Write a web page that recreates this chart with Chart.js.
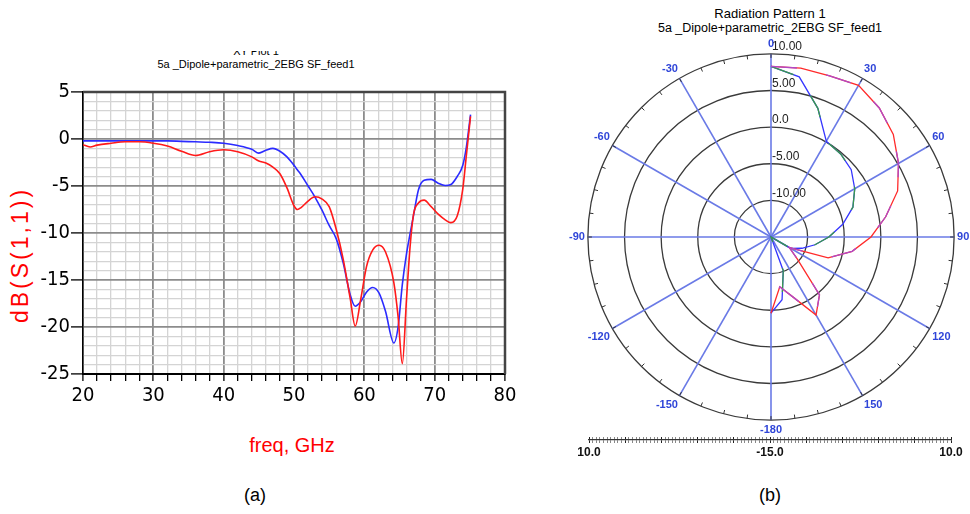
<!DOCTYPE html>
<html>
<head>
<meta charset="utf-8">
<script src="https://cdn.jsdelivr.net/npm/chart.js@4.4.0/dist/chart.umd.min.js"></script>
<style>
  body { margin: 0; background: #fff; font-family: Arial, 'Liberation Sans', sans-serif; }
  #page { position: relative; width: 970px; height: 514px; overflow: hidden; }
  canvas { position: absolute; }
  .txt { position: absolute; white-space: nowrap; transform: translate(-50%, -50%); line-height: 1; }
</style>
</head>
<body>
<div id="page">
  <!-- (a) header, top line is cut off like in the original export -->
  <div style="position:absolute; left:0; top:51px; width:520px; height:20px; overflow:hidden;">
    <div class="txt" style="left:256px; top:0px; font-size:11px;">XY Plot 1</div>
    <div class="txt" style="left:256px; top:13px; font-size:11px;">5a _Dipole+parametric_2EBG SF_feed1</div>
  </div>
  <div class="txt" style="left:20px; top:255px; font-size:23px; letter-spacing:3px; color:#f00; transform:translate(-50%,-50%) rotate(-90deg);">dB(S(1,1))</div>
  <div class="txt" style="left:292px; top:445px; font-size:20px; color:#f00;">freq, GHz</div>
  <div class="txt" style="left:255px; top:495px; font-size:18px;">(a)</div>

  <!-- (b) header -->
  <div class="txt" style="left:770px; top:13px; font-size:13px;">Radiation Pattern 1</div>
  <div class="txt" style="left:770px; top:28px; font-size:12.5px;">5a _Dipole+parametric_2EBG SF_feed1</div>
  <div class="txt" style="left:770px; top:495px; font-size:18px;">(b)</div>

  <canvas id="s11" width="530" height="470" style="left:0; top:0;"></canvas>
  <canvas id="polar" width="404" height="404" style="left:568px; top:35px;"></canvas>
  <canvas id="ruler" width="410" height="45" style="left:560px; top:425px;"></canvas>
</div>

<script>
// ---- (a) return loss, dB(S(1,1)) vs frequency
const freq = [20, 21, 22, 24, 26, 28, 30, 32, 34, 36, 38, 40, 42, 44, 45, 46, 47, 48, 49, 50,
  50.5, 51, 52, 53, 54, 55, 56, 57, 58, 58.7, 59.5, 60.3, 61.2, 62.1, 63, 64.2, 64.8, 65.4, 66, 66.5,
  67, 67.7, 68.5, 69.5, 70.5, 71.5, 72.3, 73.2, 74, 74.5, 75.1];
const s11Red = [-0.6, -0.85, -0.65, -0.45, -0.3, -0.3, -0.45, -0.75, -1.3, -1.75, -1.35, -1.15, -1.35, -1.9, -2.35, -2.55, -3.0, -3.7, -5.2, -7.1,
  -7.5, -7.3, -6.6, -6.15, -6.4, -7.2, -9.6, -12.8, -17.0, -19.9, -17.0, -13.6, -11.8, -11.3, -12.0, -15.3, -18.9, -23.9, -17.0, -11.5,
  -8.0, -6.8, -6.5, -7.2, -8.0, -8.6, -8.9, -8.2, -5.3, -1.8, 2.4];
const s11Blue = [-0.2, -0.2, -0.2, -0.2, -0.2, -0.2, -0.2, -0.2, -0.25, -0.3, -0.35, -0.45, -0.7, -1.1, -1.5, -1.2, -1.0, -1.3, -1.9, -2.8,
  -3.3, -3.8, -5.0, -6.2, -7.6, -9.2, -10.6, -13.2, -16.6, -17.8, -17.3, -16.3, -15.8, -16.4, -18.3, -21.7, -20.0, -15.5, -12.2, -10.1,
  -8.1, -5.4, -4.4, -4.3, -4.7, -4.95, -4.85, -4.0, -2.8, -0.9, 2.6];

// ---- (b) radiation pattern, gain in dB against angle (deg)
const angleDeg = [0, 10, 20, 30, 40, 50, 60, 70, 80, 90, 100, 110, 120, 130, 140, 150, 160, 170,
  -180, -170, -160, -150, -140, -130, -120, -110, -100, -90, -80, -70, -60, -50, -40, -30, -20, -10];
const gainOuter = [8.3, 8.4, 8.4, 8.9, 8.0, 6.8, 5.1, 3.4, 0.9, -1.35, -3.75, -6.7, -12.1, -10.3, -4.7, -2.7, -6.3, -8.1,
  -4.6, null, null, null, null, null, null, null, null, null, null, null, null, null, null, null, null, null];
const gainInner = [8.3, 7.2, 3.7, 0.1, -0.2, -0.7, -1.8, -3.1, -5.05, -7.1, -8.9, -10.5, -11.9, -15, -15, -15, -10.1, -6.3,
  -4.6, null, null, null, null, null, null, null, null, null, null, null, null, null, null, null, null, null];
const ringValues = [-15, -10, -5, 0, 5, 10];
const ringText = ['', '-10.00', '-5.00', '0.0', '5.00', '10.00'];

const NARROW = "'Liberation Sans Narrow', 'Arial Narrow', 'DejaVu Sans Condensed', Arial, sans-serif";
const majorGrid = '#8c8c8c';
const minorGrid = '#d4d4d4';

// dark frame round the plot area (top / right edges)
const frame = {
  id: 'frame',
  afterDraw(chart) {
    const a = chart.chartArea, ctx = chart.ctx;
    ctx.save();
    ctx.strokeStyle = '#444';
    ctx.lineWidth = 2.5;
    ctx.beginPath();
    ctx.moveTo(a.left, a.top);
    ctx.lineTo(a.right, a.top);
    ctx.lineTo(a.right, a.bottom);
    ctx.stroke();
    ctx.restore();
  }
};

new Chart(document.getElementById('s11'), {
  type: 'line',
  data: {
    datasets: [{
      data: freq.map((f, i) => ({x: f, y: s11Red[i]})),
      borderColor: '#ff1a1a',
      borderWidth: 1.6,
      pointRadius: 0,
      cubicInterpolationMode: 'monotone'
    }, {
      data: freq.map((f, i) => ({x: f, y: s11Blue[i]})),
      borderColor: '#2b2bff',
      borderWidth: 1.6,
      pointRadius: 0,
      cubicInterpolationMode: 'monotone'
    }]
  },
  options: {
    responsive: false,
    animation: false,
    layout: { padding: { left: 30, top: 92, right: 25, bottom: 56 } },
    plugins: { legend: { display: false }, tooltip: { enabled: false } },
    scales: {
      x: {
        type: 'linear', min: 20, max: 80,
        ticks: {
          stepSize: 2, autoSkip: false, maxRotation: 0, padding: 3, color: '#000',
          font: { family: NARROW, size: 20 },
          callback: v => (v % 10 === 0 ? v : '')
        },
        grid: {
          color: c => (c.tick && c.tick.value % 10 === 0 ? majorGrid : minorGrid),
          lineWidth: c => (c.tick && c.tick.value % 10 === 0 ? 1.8 : 1.3),
          tickColor: '#000', tickLength: 7, tickWidth: 1.3
        },
        border: { color: '#000', width: 2 },
        afterFit: s => { s.height = 40; }
      },
      y: {
        min: -25, max: 5,
        ticks: {
          stepSize: 1, autoSkip: false, padding: 1, color: '#000',
          font: { family: NARROW, size: 20 },
          callback: v => (v % 5 === 0 ? v : '')
        },
        grid: {
          color: c => (c.tick && c.tick.value % 5 === 0 ? majorGrid : minorGrid),
          lineWidth: c => (c.tick && c.tick.value % 5 === 0 ? 1.8 : 1.3),
          tickColor: c => (c.tick && c.tick.value % 5 === 0 ? '#000' : 'rgba(0,0,0,0)'),
          tickLength: 12, tickWidth: 1.3
        },
        border: { color: '#000', width: 1.5 },
        afterFit: s => { s.width = 53; }
      }
    }
  },
  plugins: [frame]
});

// ring value labels and the small marks on the outer ring
const ringDeco = {
  id: 'ringDeco',
  afterDraw(chart) {
    const s = chart.scales.r, ctx = chart.ctx;
    ctx.save();
    ctx.strokeStyle = '#333';
    ctx.lineWidth = 1;
    const R = s.drawingArea;
    for (let a = 0; a < 360; a += 7.5) {
      const t = a * Math.PI / 180;
      ctx.beginPath();
      ctx.moveTo(s.xCenter + R * Math.sin(t), s.yCenter - R * Math.cos(t));
      ctx.lineTo(s.xCenter + (R - 4) * Math.sin(t), s.yCenter - (R - 4) * Math.cos(t));
      ctx.stroke();
    }
    ctx.font = '12px Arial, "Liberation Sans", sans-serif';
    ctx.fillStyle = '#222';
    ctx.textAlign = 'left';
    ctx.textBaseline = 'bottom';
    s.ticks.forEach(t => {
      if (!t.label) return;
      const y = s.yCenter - s.getDistanceFromCenterForValue(t.value);
      ctx.fillText(t.label, s.xCenter + 1, y - 1);
    });
    ctx.restore();
  }
};

// each trace is two nearly coincident exports (red/purple, blue/green);
// the second one is drawn dashed on top so both colours show along the curve.
// Chart.js paints the first dataset last, so the dashed ones come first.
const lineStyle = { borderWidth: 1.3, pointRadius: 0, fill: false, spanGaps: false };

new Chart(document.getElementById('polar'), {
  type: 'radar',
  data: {
    labels: angleDeg,
    datasets: [
      Object.assign({ data: gainOuter, borderColor: '#b04ac8', borderDash: [26, 30] }, lineStyle),
      Object.assign({ data: gainInner, borderColor: '#3a9a4a', borderDash: [24, 28] }, lineStyle),
      Object.assign({ data: gainOuter, borderColor: '#ff2a2a' }, lineStyle),
      Object.assign({ data: gainInner, borderColor: '#3535ff' }, lineStyle)
    ]
  },
  options: {
    responsive: false,
    animation: false,
    plugins: { legend: { display: false }, tooltip: { enabled: false } },
    scales: {
      r: {
        min: -15, max: 10, startAngle: 0,
        ticks: { stepSize: 5, display: false, callback: v => ringText[ringValues.indexOf(v)] },
        grid: { circular: true, color: '#3a3a3a', lineWidth: 1.3 },
        angleLines: {
          color: c => (angleDeg[c.index] % 30 === 0 ? '#6a7ae6' : 'rgba(0,0,0,0)'),
          lineWidth: 1.6
        },
        pointLabels: {
          callback: l => (Number(l) % 30 === 0 ? String(l) : ''),
          font: { family: 'Arial, "Liberation Sans", sans-serif', size: 11, weight: 'bold' },
          color: '#2f45d8',
          padding: 3
        }
      }
    }
  },
  plugins: [ringDeco]
});

// scale bar under the polar plot: 10.0 ... -15.0 ... 10.0
const rMin = -15, rMax = 10;
const span = rMax - rMin;
new Chart(document.getElementById('ruler'), {
  type: 'scatter',
  data: { datasets: [] },
  options: {
    responsive: false,
    animation: false,
    layout: { padding: { left: 29, right: 19, top: 12, bottom: 10 } },
    plugins: { legend: { display: false }, tooltip: { enabled: false } },
    scales: {
      x: {
        type: 'linear', min: -span, max: span,
        ticks: {
          stepSize: 0.5, autoSkip: false, maxRotation: 0, padding: 2, color: '#111',
          font: { family: 'Arial, "Liberation Sans", sans-serif', size: 12, weight: 'bold' },
          callback: v => (v === -span || v === 0 || v === span ? (Math.abs(v) + rMin).toFixed(1) : '')
        },
        grid: {
          color: c => (c.tick && c.tick.value % 5 === 0 ? '#222' : '#888'),
          tickLength: 3, lineWidth: 1
        },
        border: { color: '#333', width: 1.3 },
        afterFit: s => { s.height = 20; }
      },
      y: { display: false, min: 0, max: 1 }
    }
  }
});
</script>
</body>
</html>
